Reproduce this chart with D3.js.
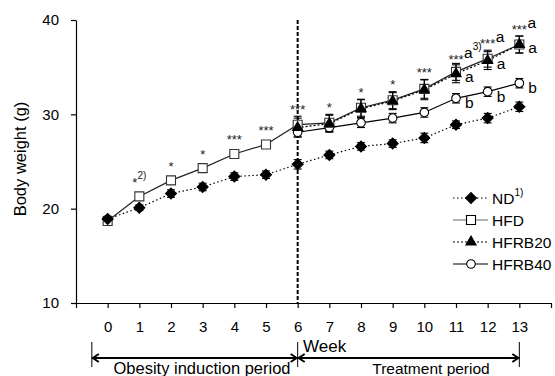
<!DOCTYPE html>
<html>
<head>
<meta charset="utf-8">
<script src="https://cdn.jsdelivr.net/npm/d3@7"></script>
<style>
body { margin: 0; background: #fff; }
svg { font-family: Arial, "Liberation Sans", sans-serif; }
</style>
</head>
<body>
<svg id="chart" width="555" height="376"></svg>
<script>
// values
var weeks = [0, 1, 2, 3, 4, 5, 6, 7, 8, 9, 10, 11, 12, 13];
var ndVals = [18.9, 20.1, 21.6, 22.3, 23.4, 23.6, 24.7, 25.7, 26.6, 26.9, 27.5, 28.9, 29.6, 30.8];
var ndErr = [0.3, 0.3, 0.4, 0.4, 0.4, 0.4, 0.5, 0.4, 0.4, 0.4, 0.5, 0.4, 0.5, 0.5];
var hfdVals = [18.7, 21.3, 23.0, 24.3, 25.8, 26.8, 28.9, 29.1, 30.7, 31.5, 32.7, 34.5, 35.9, 37.4];
var hfdErr = [0.3, 0.3, 0.4, 0.3, 0.3, 0.3, 0.9, 0.9, 0.9, 0.9, 1.0, 0.9, 0.9, 0.9];
var trtWeeks = [6, 7, 8, 9, 10, 11, 12, 13];
var hfrb20Vals = [28.6, 29.0, 30.6, 31.4, 32.6, 34.3, 35.7, 37.4];
var hfrb20Err = [1.0, 0.9, 0.95, 0.9, 1.05, 0.95, 0.95, 0.9];
var hfrb40Vals = [28.1, 28.6, 29.1, 29.6, 30.2, 31.7, 32.4, 33.3];
var hfrb40Err = [0.5, 0.4, 0.5, 0.5, 0.5, 0.5, 0.5, 0.5];

var stars = ["", "*", "*", "*", "***", "***", "***", "*", "*", "*", "***", "***", "***", "***"];
var starNotes = ["", "2)", "", "", "", "", "", "", "", "", "", "", "", ""];
var topLetters = ["", "", "", "", "", "", "", "", "", "", "", "a", "a", "a"];
var topNotes = ["", "", "", "", "", "", "", "", "", "", "", "3)", "", ""];
var hfrb20Letters = ["", "", "", "", "", "a", "a", "a"];
var hfrb40Letters = ["", "", "", "", "", "b", "b", "b"];

var legendNames = ["ND", "HFD", "HFRB20", "HFRB40"];
var legendNotes = ["1)", "", "", ""];
var yTicks = [10, 20, 30, 40];
var periodLabels = ["Obesity induction period", "Treatment period"];

var svg = d3.select("#chart");

var x = d3.scaleLinear().domain([-1, 14]).range([76, 551]);
var y = d3.scaleLinear().domain([10, 40]).range([303, 20]);

// axes
var yAxis = svg.append("g")
    .attr("transform", "translate(76,0)")
    .call(d3.axisLeft(y).tickValues(yTicks).tickSize(5).tickSizeOuter(0).tickPadding(12));
var xAxis = svg.append("g")
    .attr("transform", "translate(0,303)")
    .call(d3.axisBottom(x).tickValues(d3.range(-1, 15)).tickSize(5).tickSizeOuter(0).tickPadding(13)
        .tickFormat(function(d) { return (d < 0 || d > 13) ? "" : d; }));
svg.selectAll(".tick text").attr("font-size", 15).attr("font-family", "Arial, 'Liberation Sans', sans-serif").attr("fill", "#000");
svg.selectAll(".domain, .tick line").attr("stroke", "#000").attr("stroke-width", 1.2);

svg.append("text")
    .attr("transform", "translate(20,159) rotate(-90)")
    .attr("text-anchor", "middle")
    .attr("dy", "0.35em")
    .attr("font-size", 16.5)
    .text("Body weight (g)");

// week 6 divider
svg.append("line")
    .attr("x1", x(6)).attr("x2", x(6))
    .attr("y1", y(40)).attr("y2", y(10))
    .attr("stroke", "#000").attr("stroke-width", 2)
    .attr("stroke-dasharray", "4,2");

var nd = weeks.map(function(w, i) { return {w: w, v: ndVals[i], e: ndErr[i]}; });
var hfd = weeks.map(function(w, i) { return {w: w, v: hfdVals[i], e: hfdErr[i]}; });
var hfrb20 = trtWeeks.map(function(w, i) { return {w: w, v: hfrb20Vals[i], e: hfrb20Err[i], l: hfrb20Letters[i]}; });
var hfrb40 = trtWeeks.map(function(w, i) { return {w: w, v: hfrb40Vals[i], e: hfrb40Err[i], l: hfrb40Letters[i]}; });

var line = d3.line()
    .x(function(d) { return x(d.w); })
    .y(function(d) { return y(d.v); });

var series = [
    {name: "HFRB40", data: hfrb40, stroke: "#000", dash: null, sym: d3.symbolCircle, size: 58, fill: "#fff", rot: 0},
    {name: "HFD", data: hfd, stroke: "#222", dash: null, sym: d3.symbolSquare, size: 81, fill: "#fff", rot: 0},
    {name: "HFRB20", data: hfrb20, stroke: "#000", dash: "2,2", sym: d3.symbolTriangle, size: 45, fill: "#000", rot: 0},
    {name: "ND", data: nd, stroke: "#000", dash: "1.5,2.5", sym: d3.symbolSquare, size: 60, fill: "#000", rot: 45}
];

series.forEach(function(s) {
    svg.append("path")
        .attr("d", line(s.data))
        .attr("fill", "none")
        .attr("stroke", s.stroke)
        .attr("stroke-width", 1.2)
        .attr("stroke-dasharray", s.dash);
});

series.forEach(function(s) {
    var eb = svg.append("g").selectAll("g")
        .data(s.data)
        .enter().append("g")
        .attr("stroke", "#000").attr("stroke-width", 1.1);
    eb.append("line")
        .attr("x1", function(d) { return x(d.w); })
        .attr("x2", function(d) { return x(d.w); })
        .attr("y1", function(d) { return y(d.v - d.e); })
        .attr("y2", function(d) { return y(d.v + d.e); });
    [-1, 1].forEach(function(sign) {
        eb.append("line")
            .attr("x1", function(d) { return x(d.w) - 4; })
            .attr("x2", function(d) { return x(d.w) + 4; })
            .attr("y1", function(d) { return y(d.v + sign * d.e); })
            .attr("y2", function(d) { return y(d.v + sign * d.e); });
    });
});

series.forEach(function(s) {
    svg.append("g").selectAll("path")
        .data(s.data)
        .enter().append("path")
        .attr("d", d3.symbol().type(s.sym).size(s.size))
        .attr("transform", function(d) { return "translate(" + x(d.w) + "," + y(d.v) + ") rotate(" + s.rot + ")"; })
        .attr("fill", s.fill)
        .attr("stroke", s.name == "HFD" ? "#333" : "#000")
        .attr("stroke-width", 1.1);
});

// significance marks
weeks.forEach(function(w, i) {
    if (!stars[i]) return;
    var cy = y(hfdVals[i] + hfdErr[i]) - 10;
    if (i < 6) cy = y(hfdVals[i]) - 17;
    if (i == 11) cy += 3;
    var t = svg.append("text")
        .attr("x", x(w)).attr("y", cy + 7.5)
        .attr("text-anchor", "middle")
        .attr("font-size", 13)
        .attr("fill", "#222")
        .text(stars[i]);
    if (starNotes[i]) {
        t.append("tspan").attr("font-size", 10).attr("dy", -8).text(starNotes[i]);
    }
    if (topLetters[i]) {
        var bb = t.node().getBBox();
        var lt = svg.append("text")
            .attr("x", bb.x + bb.width + 0.5).attr("y", cy + 2)
            .attr("font-size", 15.5)
            .text(topLetters[i]);
        if (topNotes[i]) {
            lt.append("tspan").attr("font-size", 10).attr("dy", -8).text(topNotes[i]);
        }
    }
});

[hfrb20, hfrb40].forEach(function(data, k) {
    svg.append("g").selectAll("text")
        .data(data.filter(function(d) { return d.l; }))
        .enter().append("text")
        .attr("x", function(d) { return x(d.w) + 9; })
        .attr("y", function(d) { return y(d.v) + (k == 0 ? 8 : 10); })
        .attr("font-size", 15.5)
        .text(function(d) { return d.l; });
});

// legend
var legendStyles = [series[3], series[1], series[2], series[0]];
var lg = svg.append("g").selectAll("g")
    .data(legendNames)
    .enter().append("g")
    .attr("transform", function(d, i) { return "translate(453," + (198 + i * 22) + ")"; });
lg.append("line")
    .attr("x1", 0).attr("x2", 35)
    .attr("stroke", function(d, i) { return legendStyles[i].name == "HFD" ? "#666" : "#000"; })
    .attr("stroke-width", 1.2)
    .attr("stroke-dasharray", function(d, i) { return legendStyles[i].dash; });
lg.append("path")
    .attr("d", function(d, i) { return d3.symbol().type(legendStyles[i].sym).size(legendStyles[i].size)(); })
    .attr("transform", function(d, i) { return "translate(18,0) rotate(" + legendStyles[i].rot + ")"; })
    .attr("fill", function(d, i) { return legendStyles[i].fill; })
    .attr("stroke", "#000").attr("stroke-width", 1.1);
var lt = lg.append("text")
    .attr("x", 39).attr("dy", "0.36em")
    .attr("font-size", 15.5)
    .text(function(d) { return d; });
lt.filter(function(d, i) { return legendNotes[i]; })
    .append("tspan").attr("font-size", 10).attr("dy", -8)
    .text(function(d, i) { return legendNotes[legendNames.indexOf(d)]; });

// period arrows
var ay = 358;
var bounds = [[-0.5, 6], [6, 13]];
[-0.5, 6, 13].forEach(function(w) {
    svg.append("line")
        .attr("x1", x(w)).attr("x2", x(w))
        .attr("y1", 342).attr("y2", 367)
        .attr("stroke", "#000").attr("stroke-width", 1);
});
bounds.forEach(function(b, i) {
    var x0 = x(b[0]) + 1, x1 = x(b[1]) - 1;
    svg.append("line")
        .attr("x1", x0).attr("x2", x1)
        .attr("y1", ay).attr("y2", ay)
        .attr("stroke", "#000").attr("stroke-width", 2);
    svg.append("path")
        .attr("d", "M" + (x0 + 6) + "," + (ay - 4) + "L" + x0 + "," + ay + "L" + (x0 + 6) + "," + (ay + 4) +
            "M" + (x1 - 6) + "," + (ay - 4) + "L" + x1 + "," + ay + "L" + (x1 - 6) + "," + (ay + 4))
        .attr("fill", "none").attr("stroke", "#000").attr("stroke-width", 2);
    svg.append("text")
        .attr("x", i == 0 ? 202 : 431).attr("y", 374)
        .attr("text-anchor", "middle")
        .attr("font-size", i == 0 ? 16.5 : 15.5)
        .text(periodLabels[i]);
});
svg.append("text")
    .attr("x", 303).attr("y", 352)
    .attr("font-size", 17)
    .text("Week");
</script>
</body>
</html>
